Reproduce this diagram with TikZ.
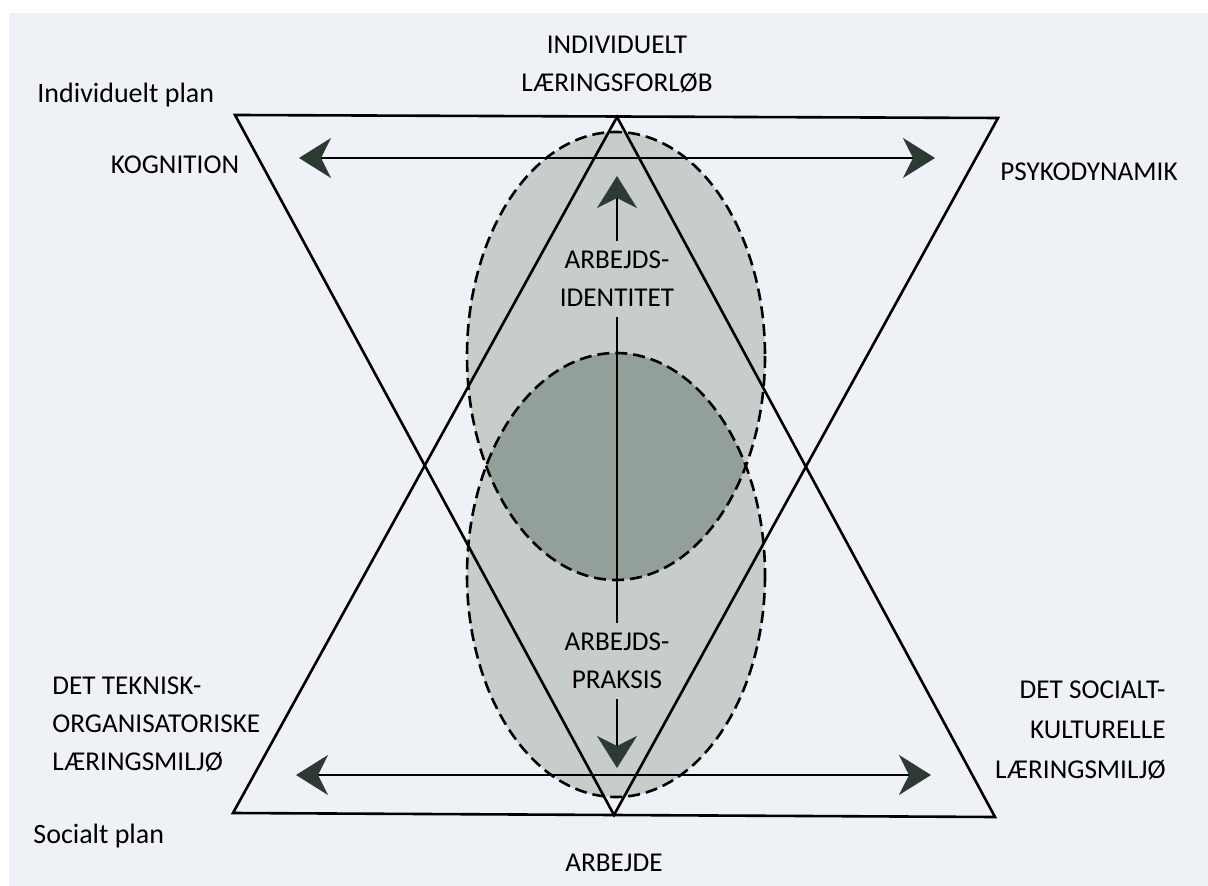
\documentclass[tikz,border=0pt]{standalone}
\usepackage{fontspec}
\setmainfont{Carlito}
\usetikzlibrary{arrows.meta, positioning}

\definecolor{paper}{HTML}{EEF2F7}
\definecolor{lightgrey}{HTML}{C6CDCA}
\definecolor{darkgrey}{HTML}{939F99}
\definecolor{headgreen}{HTML}{2C3A33}

\begin{document}
\begin{tikzpicture}[
  x=0.5pt, y=-0.5pt,
  caps/.style={font=\fontsize{13.6}{19}\selectfont, align=center, inner sep=0pt},
  plane/.style={font=\fontsize{14}{17}\selectfont, anchor=west, inner sep=0pt},
  edge/.style={line width=1.3pt, line join=miter},
  bubble/.style={dashed, dash pattern=on 6pt off 3pt, line width=1.3pt},
  harrow/.style={{Stealth[length=16pt, width=20pt, inset=5pt, color=headgreen]}-{Stealth[length=16pt, width=20pt, inset=5pt, color=headgreen]}, line width=1.2pt},
  varrow/.style={-{Stealth[length=16pt, width=20pt, inset=5pt, color=headgreen]}, line width=1pt}
  ]
  % ========== page ==========
  \useasboundingbox (0,0) rectangle (1208,886);
  \fill[white] (0,0) rectangle (1208,886);
  \fill[paper] (9,13) rectangle (1208,886);

  % ========== bubbles ==========
  \fill[lightgrey] (616,356) ellipse [x radius=149, y radius=224];
  \fill[lightgrey] (616,575) ellipse [x radius=149, y radius=222];
  \begin{scope}
    \clip (616,356) ellipse [x radius=149, y radius=224];
    \fill[darkgrey] (616,575) ellipse [x radius=149, y radius=222];
  \end{scope}
  \draw[bubble] (616,356) ellipse [x radius=149, y radius=224];
  \draw[bubble] (616,575) ellipse [x radius=149, y radius=222];

  % ========== triangles ==========
  \coordinate (TL) at (235,115);
  \coordinate (TR) at (998,118);
  \coordinate (TA) at (617,117);
  \coordinate (BL) at (233,813);
  \coordinate (BR) at (995,817);
  \coordinate (BA) at (614,815);
  \draw[edge] (TL) -- (TR) -- (BA) -- cycle;
  \draw[edge] (BL) -- (BR) -- (TA) -- cycle;

  % ========== labels ==========
  \node[caps] (forloeb) at (617,64) {INDIVIDUELT\\LÆRINGSFORLØB};
  \node[plane] (indplan) at (37,95) {Individuelt plan};
  \node[plane] (socplan) at (33,836) {Socialt plan};
  \node[caps] (kogn) at (175,165) {KOGNITION};
  \node[caps] (psyko) at (1089,172) {PSYKODYNAMIK};
  \node[caps, align=left, anchor=west] (teknisk) at (52,724) {DET TEKNISK-\\ORGANISATORISKE\\LÆRINGSMILJØ};
  \node[caps, align=right, anchor=east, font=\fontsize{13.6}{20}\selectfont] (socialt) at (1166,730) {DET SOCIALT-\\KULTURELLE\\LÆRINGSMILJØ};
  \node[caps] (arbejde) at (614,863) {ARBEJDE};
  \node[caps, inner sep=5pt] (ident) at (617,279) {ARBEJDS-\\IDENTITET};
  \node[caps, inner sep=5pt] (praksis) at (617,661) {ARBEJDS-\\PRAKSIS};

  % ========== arrows ==========
  \coordinate (kogL) at (299,158);
  \coordinate (kogR) at (935,158);
  \coordinate (milL) at (296,775);
  \coordinate (milR) at (931,775);
  \coordinate (up) at (617,176);
  \coordinate (down) at (617,768);
  \draw[harrow] (kogL) -- (kogR);
  \draw[harrow] (milL) -- (milR);
  \draw[varrow] (ident) -- (up);
  \draw[line width=1pt] (ident) -- (praksis);
  \draw[varrow] (praksis) -- (down);
\end{tikzpicture}
\end{document}
